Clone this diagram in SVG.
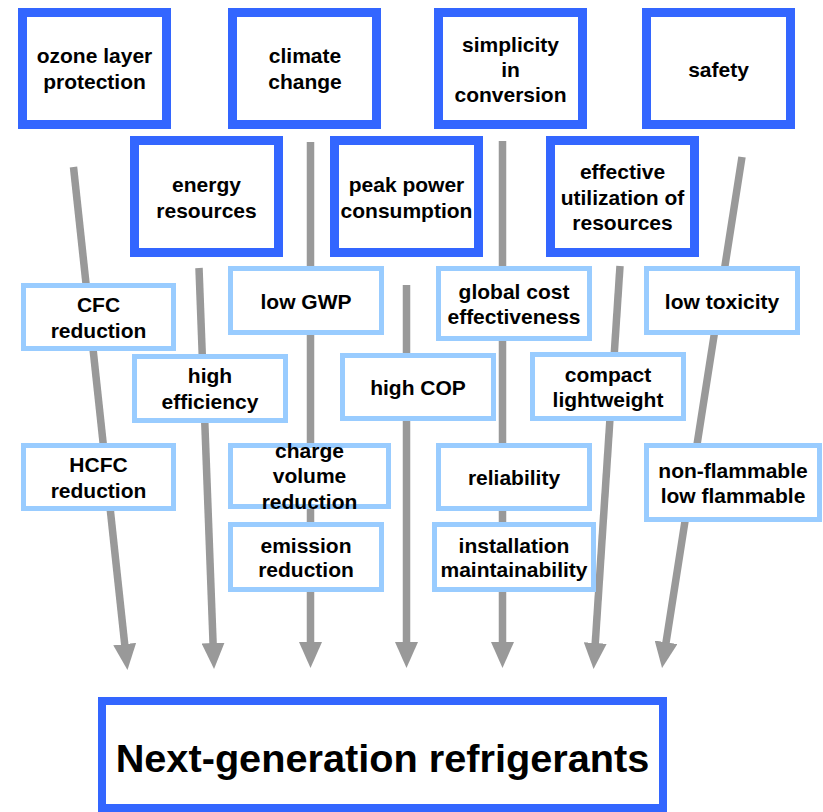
<svg xmlns="http://www.w3.org/2000/svg" width="823" height="812" viewBox="0 0 823 812">
<style>
text{font-family:"Liberation Sans",Arial,sans-serif;font-weight:bold;font-size:21px;fill:#000;text-anchor:middle}
.dark{fill:#fff;stroke:#3366ff;stroke-width:9}
.light{fill:#fff;stroke:#99ccff;stroke-width:5}
.main{fill:#fff;stroke:#3366ff;stroke-width:8}
.arr{stroke:#999999;stroke-width:7.5;fill:none;marker-end:url(#ah)}
.big{font-size:39.7px}
</style>
<defs>
<marker id="ah" markerUnits="userSpaceOnUse" markerWidth="26" markerHeight="23" viewBox="0 0 26 23" refX="1" refY="11.5" orient="auto">
<path d="M0,0 L26,11.5 L0,23 z" fill="#999999"/>
</marker>
</defs>
<g id="connectors">
<line class="arr" x1="73.5" y1="167" x2="124.8" y2="645.1"/>
<line class="arr" x1="199" y1="268" x2="213.1" y2="644"/>
<line class="arr" x1="310.5" y1="142" x2="310.5" y2="643"/>
<line class="arr" x1="406.5" y1="285" x2="406.5" y2="643"/>
<line class="arr" x1="502.5" y1="141" x2="502.5" y2="643"/>
<line class="arr" x1="620" y1="266" x2="595.2" y2="644"/>
<line class="arr" x1="742" y1="157" x2="665.9" y2="643.3"/>
</g>
<g id="ozone"><rect class="dark" x="22.5" y="12.5" width="144" height="112"/><text x="94.5" y="63">ozone layer</text><text x="94.5" y="89">protection</text></g>
<g id="climate"><rect class="dark" x="232.5" y="12.5" width="144" height="112"/><text x="305" y="63">climate</text><text x="305" y="89">change</text></g>
<g id="simplicity"><rect class="dark" x="438.5" y="12.5" width="144" height="112"/><text x="510.5" y="52">simplicity</text><text x="510.5" y="77">in</text><text x="510.5" y="102">conversion</text></g>
<g id="safety"><rect class="dark" x="646.5" y="12.5" width="144" height="112"/><text x="718.5" y="77">safety</text></g>
<g id="energy"><rect class="dark" x="134.5" y="140.5" width="144" height="112"/><text x="206.5" y="192">energy</text><text x="206.5" y="218">resources</text></g>
<g id="peak"><rect class="dark" x="334.5" y="140.5" width="144" height="112"/><text x="406.5" y="192">peak power</text><text x="406.5" y="218">consumption</text></g>
<g id="effective"><rect class="dark" x="550.5" y="140.5" width="144" height="112"/><text x="622.5" y="179">effective</text><text x="622.5" y="205">utilization of</text><text x="622.5" y="230">resources</text></g>
<g id="cfc"><rect class="light" x="23.5" y="285.5" width="150" height="63"/><text x="98.5" y="312">CFC</text><text x="98.5" y="338">reduction</text></g>
<g id="hcfc"><rect class="light" x="23.5" y="445.5" width="150" height="63"/><text x="98.5" y="472">HCFC</text><text x="98.5" y="498">reduction</text></g>
<g id="lowgwp"><rect class="light" x="230.5" y="268.5" width="151" height="64"/><text x="306" y="309">low GWP</text></g>
<g id="higheff"><rect class="light" x="134.5" y="356.5" width="151" height="64"/><text x="210" y="383">high</text><text x="210" y="409">efficiency</text></g>
<g id="highcop"><rect class="light" x="342.5" y="355.5" width="151" height="63"/><text x="418" y="395">high COP</text></g>
<g id="charge"><rect class="light" x="230.5" y="445.5" width="158" height="61"/><text x="309.5" y="458">charge</text><text x="309.5" y="483">volume</text><text x="309.5" y="509">reduction</text></g>
<g id="emission"><rect class="light" x="230.5" y="524.5" width="151" height="65"/><text x="306" y="553">emission</text><text x="306" y="577">reduction</text></g>
<g id="globalcost"><rect class="light" x="438.5" y="268.5" width="151" height="70"/><text x="514" y="299">global cost</text><text x="514" y="324">effectiveness</text></g>
<g id="compact"><rect class="light" x="532.5" y="354.5" width="151" height="64"/><text x="608" y="382">compact</text><text x="608" y="407">lightweight</text></g>
<g id="lowtox"><rect class="light" x="646.5" y="268.5" width="151" height="64"/><text x="722" y="309">low toxicity</text></g>
<g id="reliability"><rect class="light" x="438.5" y="445.5" width="151" height="63"/><text x="514" y="485">reliability</text></g>
<g id="installation"><rect class="light" x="434.5" y="524.5" width="159" height="65"/><text x="514" y="553">installation</text><text x="514" y="577">maintainability</text></g>
<g id="flammable"><rect class="light" x="646.5" y="445.5" width="173" height="74"/><text x="733" y="478">non-flammable</text><text x="733" y="503">low flammable</text></g>
<g id="nextgen"><rect class="main" x="102" y="701" width="561" height="107"/><text class="big" x="382.5" y="772">Next-generation refrigerants</text></g>
</svg>
